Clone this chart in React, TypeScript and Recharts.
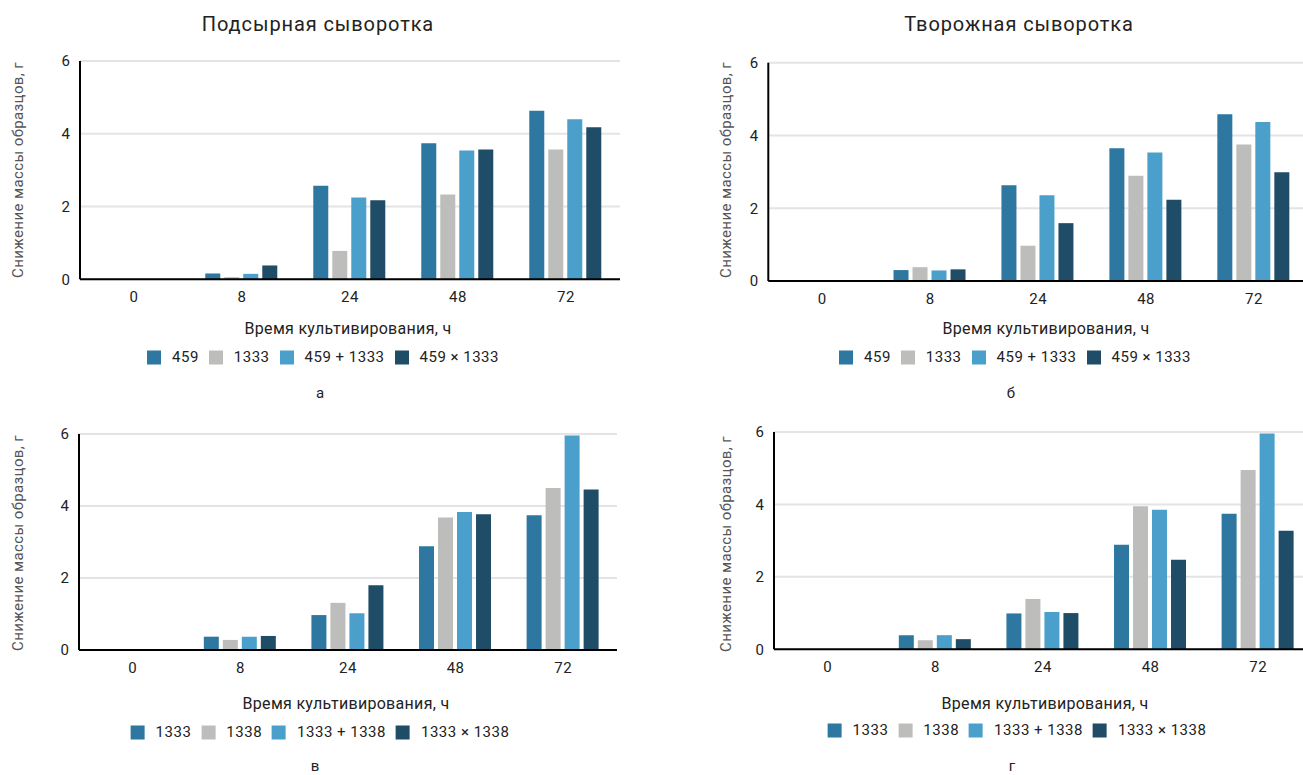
import { BarChart, Bar, XAxis, YAxis, CartesianGrid } from 'recharts'
import type { CSSProperties } from 'react'

const hours = ['0', '8', '24', '48', '72']
const yTicks = [0, 2, 4, 6]

// а — подсырная сыворотка
const a459 = [0, 0.16, 2.57, 3.74, 4.63]
const a1333 = [0, 0.06, 0.78, 2.33, 3.57]
const aMix = [0, 0.15, 2.25, 3.54, 4.4]
const aCross = [0, 0.38, 2.17, 3.57, 4.18]

// б — творожная сыворотка
const b459 = [0, 0.3, 2.63, 3.65, 4.58]
const b1333 = [0, 0.38, 0.97, 2.89, 3.75]
const bMix = [0, 0.29, 2.36, 3.53, 4.37]
const bCross = [0, 0.32, 1.59, 2.23, 2.99]

// в
const c1333 = [0, 0.37, 0.97, 2.88, 3.74]
const c1338 = [0, 0.28, 1.31, 3.68, 4.5]
const cMix = [0, 0.37, 1.02, 3.83, 5.96]
const cCross = [0, 0.39, 1.8, 3.77, 4.46]

// г
const d1333 = [0, 0.39, 0.99, 2.89, 3.74]
const d1338 = [0, 0.25, 1.39, 3.95, 4.95]
const dMix = [0, 0.39, 1.03, 3.85, 5.96]
const dCross = [0, 0.28, 1.0, 2.47, 3.27]

const namesTop = ['459', '1333', '459 + 1333', '459 × 1333']
const namesBottom = ['1333', '1338', '1333 + 1338', '1333 × 1338']
const colors = ['#2d77a0', '#bdbdbc', '#4a9fcb', '#1f4d67']

const font = 'Roboto, "Noto Sans", sans-serif'
const yLabel = 'Снижение массы образцов, г'
const xLabel = 'Время культивирования, ч'

interface PanelProps {
  left: number
  top: number
  width: number
  height: number
  mt: number
  mr: number
  yw: number
  xh: number
  series: number[][]
}

function Panel({ left, top, width, height, mt, mr, yw, xh, series }: PanelProps) {
  const rows = hours.map((h, i) => ({ h, s0: series[0][i], s1: series[1][i], s2: series[2][i], s3: series[3][i] }))
  return (
    <div style={{ position: 'absolute', left, top }}>
      <BarChart width={width} height={height} data={rows} margin={{ top: mt, right: mr, left: 0, bottom: 0 }}
        barCategoryGap="16%" barGap={4}>
        <CartesianGrid vertical={false} stroke="#e4e4e4" strokeWidth={2} />
        <XAxis dataKey="h" height={xh} tickLine={false} tickMargin={6} axisLine={{ stroke: '#000', strokeWidth: 2 }}
          tick={{ fill: '#222', fontSize: 15, fontFamily: font, letterSpacing: 0.5 }} interval={0} />
        <YAxis width={yw} domain={[0, 6]} ticks={yTicks} tickLine={false} tickMargin={4}
          axisLine={{ stroke: '#000', strokeWidth: 2 }} tick={{ fill: '#222', fontSize: 15, fontFamily: font }} />
        {[0, 1, 2, 3].map(k => (
          <Bar key={k} dataKey={`s${k}`} fill={colors[k]} isAnimationActive={false} />
        ))}
      </BarChart>
    </div>
  )
}

const centered = (x: number, y: number, extra: CSSProperties = {}): CSSProperties => ({
  position: 'absolute', left: x, top: y, transform: 'translate(-50%, -50%)', whiteSpace: 'nowrap',
  lineHeight: 1, fontFamily: font, color: '#222', ...extra,
})

function Legend({ x, y, names }: { x: number; y: number; names: string[] }) {
  return (
    <div style={{ ...centered(x, y), display: 'flex', alignItems: 'center', fontSize: 15, letterSpacing: 0.5 }}>
      {names.map((n, i) => (
        <div key={n} style={{ display: 'flex', alignItems: 'center', marginRight: i < 3 ? 10 : 0 }}>
          <span style={{ width: 14, height: 14, background: colors[i], marginRight: 11, display: 'inline-block' }} />
          <span>{n}</span>
        </div>
      ))}
    </div>
  )
}

function YTitle({ x, y }: { x: number; y: number }) {
  return <div style={{ ...centered(x, y), transform: 'translate(-50%, -50%) rotate(-90deg)', fontSize: 15,
    letterSpacing: 0.4, color: '#555' }}>{yLabel}</div>
}

export default function App() {
  return (
    <div style={{ position: 'fixed', left: 0, top: 0, width: 1303, height: 775, overflow: 'hidden', background: '#fff' }}>
      <div style={centered(318, 24, { fontSize: 20, letterSpacing: 0.9 })}>Подсырная сыворотка</div>
      <div style={centered(1019, 24, { fontSize: 20, letterSpacing: 0.9 })}>Творожная сыворотка</div>

      <Panel left={0} top={0} width={650} height={340} mt={61} mr={30} yw={80} xh={60.7}
        series={[a459, a1333, aMix, aCross]} />
      <Panel left={650} top={0} width={680} height={340} mt={62.7} mr={22} yw={118.3} xh={59}
        series={[b459, b1333, bMix, bCross]} />
      <Panel left={0} top={380} width={650} height={340} mt={54} mr={33} yw={79} xh={70}
        series={[c1333, c1338, cMix, cCross]} />
      <Panel left={650} top={380} width={680} height={340} mt={52} mr={18} yw={124} xh={70.7}
        series={[d1333, d1338, dMix, dCross]} />

      <YTitle x={18} y={170} />
      <YTitle x={726} y={170} />
      <YTitle x={18} y={543} />
      <YTitle x={726} y={544} />

      <div style={centered(348, 329, { fontSize: 16, letterSpacing: 0.3 })}>{xLabel}</div>
      <div style={centered(1046, 329, { fontSize: 16, letterSpacing: 0.3 })}>{xLabel}</div>
      <div style={centered(346, 704, { fontSize: 16, letterSpacing: 0.3 })}>{xLabel}</div>
      <div style={centered(1045, 704, { fontSize: 16, letterSpacing: 0.3 })}>{xLabel}</div>

      <Legend x={323} y={357} names={namesTop} />
      <Legend x={1015} y={357} names={namesTop} />
      <Legend x={320} y={732} names={namesBottom} />
      <Legend x={1017} y={730} names={namesBottom} />

      <div style={centered(320, 393, { fontSize: 15 })}>а</div>
      <div style={centered(1011, 393, { fontSize: 15 })}>б</div>
      <div style={centered(315, 766, { fontSize: 15 })}>в</div>
      <div style={centered(1012, 766, { fontSize: 15 })}>г</div>
    </div>
  )
}
